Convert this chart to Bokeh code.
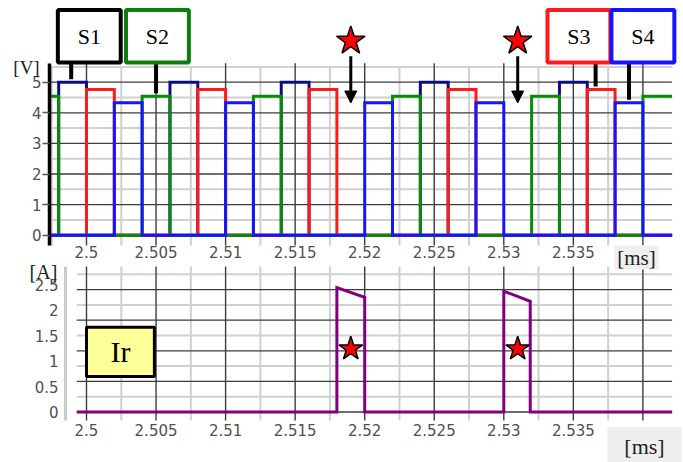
from bokeh.plotting import figure
from bokeh.models import Range1d, FixedTicker, Label, Arrow, NormalHead, LinearAxis
from bokeh.core.properties import value
from bokeh.embed import file_html
from bokeh.resources import INLINE

# ---------------- data ----------------
T_START = 2.4973          # ms, first recorded sample (top panel)
T_START_I = 2.4993        # ms, first recorded sample (bottom panel)
T_END = 2.5421            # ms, last recorded sample

# gate signals: pulse start / end times [ms] and high level [V]
S1_ON = [2.498, 2.506, 2.514, 2.524, 2.534]
S1_OFF = [2.500, 2.508, 2.516, 2.526, 2.536]
S1_V = 5.0
S2_ON = [2.4973, 2.504, 2.512, 2.522, 2.532, 2.540]
S2_OFF = [2.498, 2.506, 2.514, 2.524, 2.534, 2.5421]
S2_V = 4.54
S3_ON = [2.500, 2.508, 2.516, 2.526, 2.536]
S3_OFF = [2.502, 2.510, 2.518, 2.528, 2.538]
S3_V = 4.76
S4_ON = [2.502, 2.510, 2.520, 2.528, 2.538]
S4_OFF = [2.504, 2.512, 2.522, 2.530, 2.540]
S4_V = 4.33

# current Ir
IR_T = [2.4993, 2.518, 2.518, 2.520, 2.520, 2.530, 2.530, 2.5319, 2.5319, 2.5421]
IR_A = [0, 0, 2.44, 2.25, 0, 0, 2.37, 2.17, 0, 0]

# event markers (gaps in the gate sequence)
EVENT_T = [2.519, 2.531]

# ticks
X_TICKS = [2.5, 2.505, 2.51, 2.515, 2.52, 2.525, 2.53, 2.535]
X_TICK_LABELS = ["2.5", "2.505", "2.51", "2.515", "2.52", "2.525", "2.53", "2.535"]
X_MAJOR_GRID = [2.5, 2.505, 2.51, 2.515, 2.52, 2.525, 2.53, 2.535, 2.54]
X_MINOR_GRID = [2.4975, 2.5025, 2.5075, 2.5125, 2.5175, 2.5225, 2.5275, 2.5325, 2.5375]
V_TICKS = [0, 1, 2, 3, 4, 5]
V_MINOR_GRID = [0.5, 1.5, 2.5, 3.5, 4.5, 5.5]
A_TICKS = [0, 0.5, 1, 1.5, 2, 2.5]
A_TICK_LABELS = ["0", "0.5", "1", "1.5", "2", "2.5"]
A_MAJOR_GRID = [0, 0.6, 1.2, 1.8, 2.4]
A_MINOR_GRID = [0.3, 0.9, 1.5, 2.1, 2.7]

# ---------------- style ----------------
SERIF = "Liberation Serif"
SANS = "DejaVu Sans"
LBL_COLOR = "#505050"
DARK_GRID = "#3c3c3c"
LIGHT_GRID = "#d0d0d0"
C_S1, C_S2, C_S3, C_S4 = "#0c0c8a", "#0a8a0a", "#ff1a1a", "#1414ff"
B_S1, B_S2, B_S3, B_S4 = "#000000", "#0a7f0a", "#ff1a1a", "#1414ff"

W, H = 683, 462
PX_MS = 13910.0   # pixels per ms
PX_V = 30.6       # pixels per volt (top panel)
V0 = 234.7        # pixel row of 0 V
PX_A = 51.0       # pixels per amp (bottom panel)
A0 = 411.5        # pixel row of 0 A


def tx(px):  # pixel column -> ms
    return 2.5 + (px - 86) / PX_MS


def tv(py):  # pixel row -> volts
    return (V0 - py) / PX_V


def ta(py):  # pixel row -> amps
    return (A0 - py) / PX_A


def wave(on, off, level):
    xs, ys = [], []
    if on[0] > T_START:
        xs.append(T_START); ys.append(0)
    for a, b in zip(on, off):
        if a > T_START:
            xs.append(a); ys.append(0)
        xs += [a, b]; ys += [level, level]
        if b < T_END:
            xs.append(b); ys.append(0)
    if off[-1] < T_END:
        xs.append(T_END); ys.append(0)
    return xs, ys


def style_xaxis(ax, standoff):
    ax.ticker = FixedTicker(ticks=X_TICKS)
    ax.major_label_overrides = dict(zip(X_TICKS, X_TICK_LABELS))
    ax.axis_line_color = None
    ax.major_tick_line_color = None
    ax.minor_tick_line_color = None
    ax.major_tick_out = 0
    ax.major_tick_in = 0
    ax.major_label_standoff = standoff
    ax.major_label_text_font = SANS
    ax.major_label_text_font_size = "15px"
    ax.major_label_text_color = LBL_COLOR


p = figure(output_backend="svg", toolbar_location=None, width=W, height=H,
           x_range=Range1d(tx(0), tx(W)), y_range=Range1d(tv(H), tv(0)))
p.extra_y_ranges = {"amp": Range1d(ta(H), ta(0))}
p.outline_line_color = None
p.grid.visible = False
p.min_border = 0
p.min_border_left = 0
p.min_border_right = 0
p.min_border_top = 0
p.min_border_bottom = 0

# ======== top panel: gate voltages ========
y_lo, y_top = tv(245), 5.62
x_left = tx(49)

p.segment(x0=[x_left] * len(V_MINOR_GRID), x1=[T_END] * len(V_MINOR_GRID),
          y0=V_MINOR_GRID, y1=V_MINOR_GRID, line_color=LIGHT_GRID, line_width=2)
p.segment(x0=X_MINOR_GRID, x1=X_MINOR_GRID, y0=[y_lo] * len(X_MINOR_GRID),
          y1=[5.5] * len(X_MINOR_GRID), line_color=LIGHT_GRID, line_width=2)
p.segment(x0=[x_left] * len(V_TICKS), x1=[T_END] * len(V_TICKS),
          y0=V_TICKS, y1=V_TICKS, line_color=DARK_GRID, line_width=1.3)
p.segment(x0=X_MAJOR_GRID, x1=X_MAJOR_GRID, y0=[y_lo] * len(X_MAJOR_GRID),
          y1=[y_top] * len(X_MAJOR_GRID), line_color=DARK_GRID, line_width=1.4)

for on, off, lev, col in [(S1_ON, S1_OFF, S1_V, C_S1), (S3_ON, S3_OFF, S3_V, C_S3),
                          (S2_ON, S2_OFF, S2_V, C_S2), (S4_ON, S4_OFF, S4_V, C_S4)]:
    xs, ys = wave(on, off, lev)
    p.line(xs, ys, line_color=col, line_width=3, line_join="miter")

# S1..S4 call-outs
box_x = [2.5002, 2.5051, 2.5354, 2.5400]
conn_x = [2.4989, 2.5050, 2.5366, 2.5390]
levels = [S1_V, S2_V, S3_V, S4_V]
box_y, box_h, box_w = 6.5, 1.72, 0.00452
p.segment(x0=conn_x, x1=conn_x, y0=[box_y - box_h / 2] * 4,
          y1=[lv + 0.1 for lv in levels], line_color="black", line_width=4)
p.rect(x=box_x, y=[box_y] * 4, width=box_w, height=box_h, fill_color="white",
       line_color=[B_S1, B_S2, B_S3, B_S4], line_width=4)
p.text(x=box_x, y=[box_y] * 4, text=["S1", "S2", "S3", "S4"], text_font=value(SERIF),
       text_font_size="22px", text_align="center", text_baseline="middle", text_color="black")

for t in EVENT_T:
    p.add_layout(Arrow(end=NormalHead(size=12, fill_color="black", line_color="black"),
                       x_start=t, y_start=5.85, x_end=t, y_end=4.32,
                       line_width=3, line_color="black"))
p.scatter(x=EVENT_T, y=[6.35] * len(EVENT_T), marker="star", size=30,
          fill_color="red", line_color="black", line_width=1.5)

style_xaxis(p.xaxis[0], 0)
p.xaxis[0].fixed_location = y_lo

vax = p.yaxis[0]
vax.fixed_location = x_left
vax.ticker = FixedTicker(ticks=V_TICKS)
vax.bounds = (y_lo, y_top)
vax.axis_line_color = "black"
vax.axis_line_width = 3.5
vax.major_tick_out = 7
vax.major_tick_in = 0
vax.major_tick_line_color = "#555555"
vax.major_tick_line_width = 1.5
vax.minor_tick_line_color = None
vax.major_label_standoff = 1
vax.major_label_text_font = SANS
vax.major_label_text_font_size = "15px"
vax.major_label_text_color = LBL_COLOR

p.add_layout(Label(x=tx(26), y=tv(67), text="[V]", text_font=SERIF,
                   text_font_size="19px", text_align="center", text_baseline="middle",
                   text_color="#222222"))
p.add_layout(Label(x=tx(636), y=tv(257), text="[ms]", text_font=SERIF,
                   text_font_size="21px", text_align="center", text_baseline="middle",
                   text_color="#222222", background_fill_color="#efefef",
                   padding=dict(left=3, right=3, top=0, bottom=0)))

# ======== bottom panel: current ========
a_lo, a_hi = ta(420), ta(266)

p.segment(x0=[T_START_I] * len(A_MINOR_GRID), x1=[T_END] * len(A_MINOR_GRID),
          y0=A_MINOR_GRID, y1=A_MINOR_GRID, line_color=LIGHT_GRID, line_width=2,
          y_range_name="amp")
p.segment(x0=X_MINOR_GRID[1:], x1=X_MINOR_GRID[1:], y0=[a_lo] * (len(X_MINOR_GRID) - 1),
          y1=[a_hi] * (len(X_MINOR_GRID) - 1), line_color=LIGHT_GRID, line_width=2,
          y_range_name="amp")
p.segment(x0=[T_START_I] * len(A_MAJOR_GRID), x1=[T_END] * len(A_MAJOR_GRID),
          y0=A_MAJOR_GRID, y1=A_MAJOR_GRID, line_color=DARK_GRID, line_width=1.3,
          y_range_name="amp")
p.segment(x0=X_MAJOR_GRID, x1=X_MAJOR_GRID, y0=[a_lo] * len(X_MAJOR_GRID),
          y1=[a_hi] * len(X_MAJOR_GRID), line_color=DARK_GRID, line_width=1.4,
          y_range_name="amp")

p.rect(x=[2.50244], y=[1.18], width=0.00488, height=0.967, fill_color="#ffff99",
       line_color="black", line_width=3, y_range_name="amp")
p.text(x=[2.50244], y=[1.18], text=["Ir"], text_font=value(SERIF), text_font_size="30px",
       text_align="center", text_baseline="middle", text_color="black", y_range_name="amp")

p.line(IR_T, IR_A, line_color="#800080", line_width=3, line_join="miter", y_range_name="amp")
p.scatter(x=EVENT_T, y=[1.24] * len(EVENT_T), marker="star", size=25,
          fill_color="red", line_color="black", line_width=1.5, y_range_name="amp")

tax = LinearAxis(y_range_name="amp")
style_xaxis(tax, 3)
tax.fixed_location = a_lo
p.add_layout(tax, "below")

aax = LinearAxis(y_range_name="amp")
aax.fixed_location = tx(65)
aax.bounds = (a_lo, a_hi)
aax.ticker = FixedTicker(ticks=A_TICKS)
aax.major_label_overrides = dict(zip(A_TICKS, A_TICK_LABELS))
aax.axis_line_color = "#cccccc"
aax.axis_line_width = 3
aax.major_tick_line_color = None
aax.minor_tick_line_color = None
aax.major_tick_out = 0
aax.major_tick_in = 0
aax.major_label_standoff = 7
aax.major_label_text_font = SANS
aax.major_label_text_font_size = "15px"
aax.major_label_text_color = LBL_COLOR
p.add_layout(aax, "left")

p.add_layout(Label(x=tx(43), y=ta(271), text="[A]", text_font=SERIF, y_range_name="amp",
                   text_font_size="20px", text_align="center", text_baseline="middle",
                   text_color="#222222"))
p.add_layout(Label(x=tx(644), y=ta(446), text="[ms]", text_font=SERIF, y_range_name="amp",
                   text_font_size="22px", text_align="center", text_baseline="middle",
                   text_color="#222222", background_fill_color="#efefef",
                   padding=dict(left=17, right=17, top=7, bottom=7)))

open("out.html", "w").write(file_html(p, INLINE))
